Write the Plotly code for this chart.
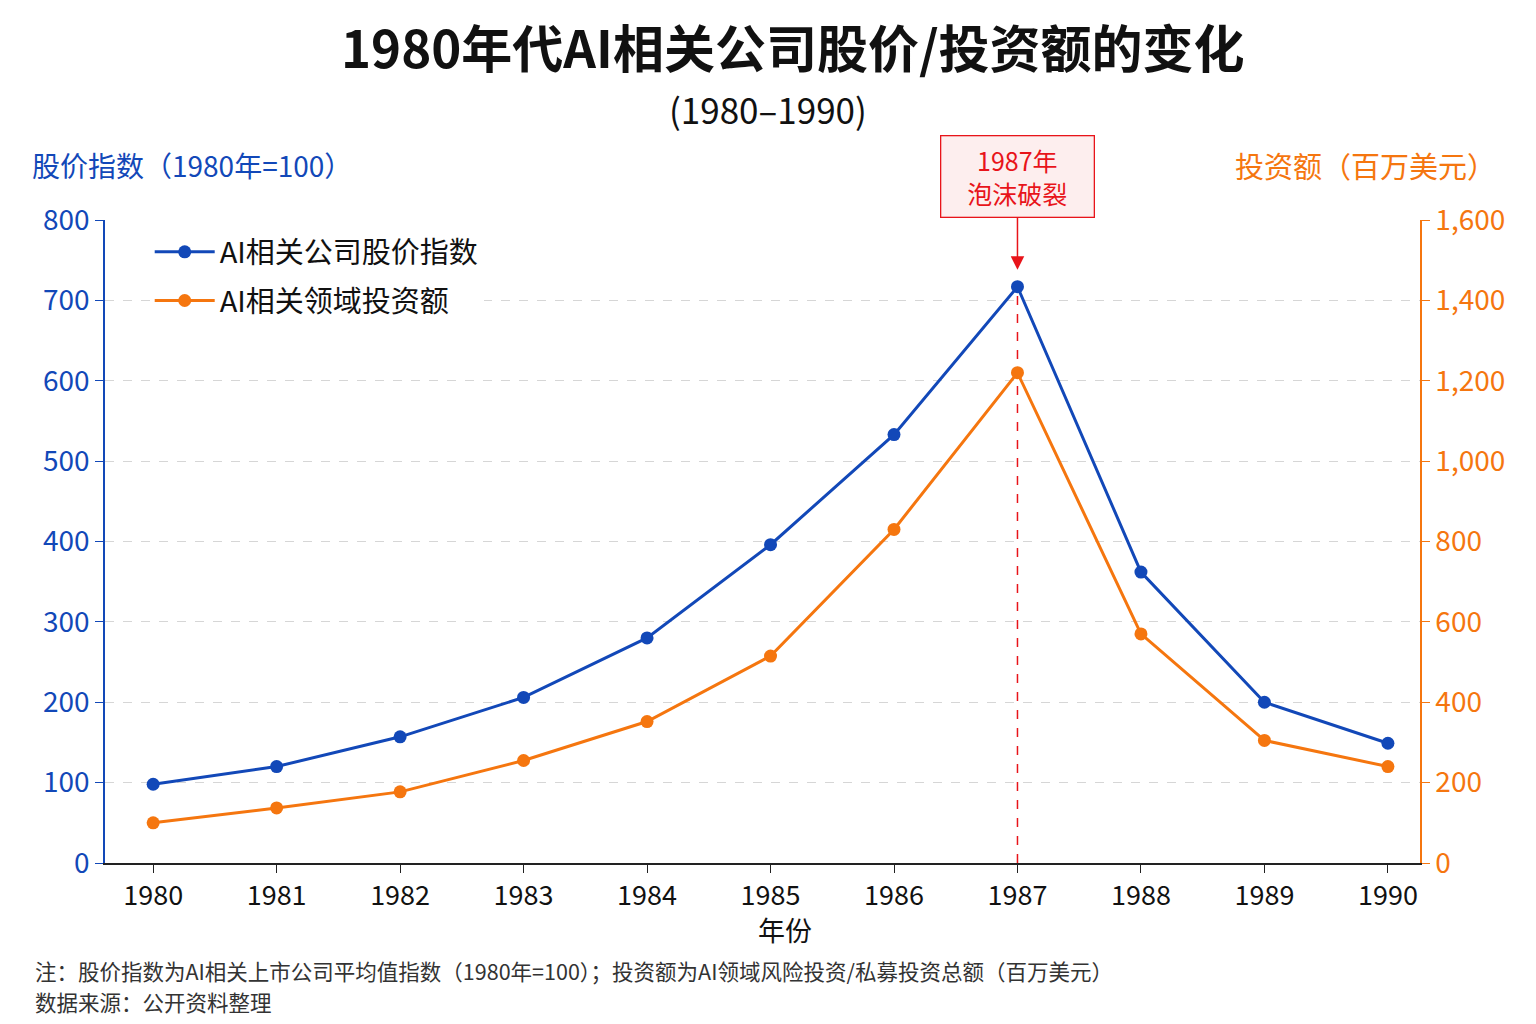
import plotly.graph_objects as go

years = [1980, 1981, 1982, 1983, 1984, 1985, 1986, 1987, 1988, 1989, 1990]
stock_index = [98, 120, 157, 206, 280, 396, 533, 717, 362, 200, 149]
investment = [100, 137, 177, 255, 352, 515, 830, 1220, 570, 305, 240]

name_stock = "AI相关公司股价指数"
name_invest = "AI相关领域投资额"
title_text = "1980年代AI相关公司股价/投资额的变化"
subtitle_text = "(1980–1990)"
left_title = "股价指数（1980年=100）"
right_title = "投资额（百万美元）"
x_title = "年份"
bubble_year = 1987
bubble_text = "1987年<br>泡沫破裂"
note1 = "注：股价指数为AI相关上市公司平均值指数（1980年=100）；投资额为AI领域风险投资/私募投资总额（百万美元）"
note2 = "数据来源：公开资料整理"

BLUE = "#1248b8"
ORANGE = "#f5760f"
RED = "#e8141a"
FONT = "Noto Sans CJK SC"

W, H = 1536, 1024
ML, MR, MT, MB = 105, 116, 220, 161
PW, PH = W - ML - MR, H - MT - MB
XR = [1979.61, 1990.26]


def px2paper(px, py):
    return (px - ML) / PW, (H - MB - py) / PH


fig = go.Figure()
fig.add_trace(go.Scatter(x=years, y=stock_index, name=name_stock, mode="lines+markers",
                         line=dict(color=BLUE, width=3), marker=dict(size=13, color=BLUE),
                         yaxis="y", legendgroup="a"))
fig.add_trace(go.Scatter(x=years, y=investment, name=name_invest, mode="lines+markers",
                         line=dict(color=ORANGE, width=3), marker=dict(size=13, color=ORANGE),
                         yaxis="y2", legendgroup="b"))

peak = stock_index[years.index(bubble_year)]
fig.add_shape(type="line", x0=bubble_year, x1=bubble_year, y0=0, y1=peak, xref="x", yref="y",
              line=dict(color=RED, width=1.5, dash="dash"), layer="below")

# callout box with arrow
fig.add_annotation(x=bubble_year, y=peak, xref="x", yref="y", text=bubble_text,
                   showarrow=True, arrowhead=2, arrowsize=1.8, arrowwidth=1.5, arrowcolor=RED,
                   ax=0, ay=-110, standoff=17, borderpad=6, width=140,
                   bgcolor="#fdeeee", bordercolor=RED, borderwidth=1.3,
                   font=dict(family=FONT, size=25, color=RED))

texts = [
    (793, 46, "<b>" + title_text + "</b>", 51, "#111111", "center"),
    (768, 108, subtitle_text, 35, "#111111", "center"),
    (30, 165, left_title, 28, BLUE, "left"),
    (1498, 165, right_title, 29, ORANGE, "right"),
    (785, 929, x_title, 27, "#111111", "center"),
    (33, 970, note1, 21.5, "#333333", "left"),
    (33, 1001, note2, 21.5, "#333333", "left"),
]
for x, y, t, s, c, anc in texts:
    xp, yp = px2paper(x, y)
    fig.add_annotation(x=xp, y=yp, xref="paper", yref="paper", text=t, showarrow=False,
                       xanchor=anc, yanchor="middle", font=dict(family=FONT, size=s, color=c))

fig.update_layout(
    width=W, height=H,
    margin=dict(l=ML, r=MR, t=MT, b=MB),
    paper_bgcolor="white", plot_bgcolor="white",
    font=dict(family=FONT, color="#111111"),
    showlegend=True,
    legend=dict(x=0.034, y=0.99, xanchor="left", yanchor="top",
                bgcolor="white", font=dict(family=FONT, size=29, color="#111111"),
                itemwidth=60, tracegroupgap=8),
    xaxis=dict(range=XR, tickmode="array", tickvals=years,
               ticktext=[str(y) for y in years], showgrid=False,
               showline=True, linecolor="#222222", linewidth=1.5,
               ticks="outside", ticklen=8, tickcolor="#222222",
               tickfont=dict(family=FONT, size=27, color="#111111"),
               zeroline=False),
    yaxis=dict(range=[0, 800], dtick=100, showgrid=True, gridcolor="#d6d6d6", griddash="dash",
               showline=True, linecolor=BLUE, linewidth=1.5, ticks="outside", ticklen=8,
               tickcolor=BLUE, tickfont=dict(family=FONT, size=28, color=BLUE), zeroline=False),
    yaxis2=dict(range=[0, 1600], dtick=200, overlaying="y", side="right", showgrid=False,
                showline=True, linecolor=ORANGE, linewidth=1.5, ticks="outside", ticklen=8,
                tickcolor=ORANGE, tickformat=",", tickfont=dict(family=FONT, size=28, color=ORANGE),
                zeroline=False),
)

fig.write_html("out.html")
